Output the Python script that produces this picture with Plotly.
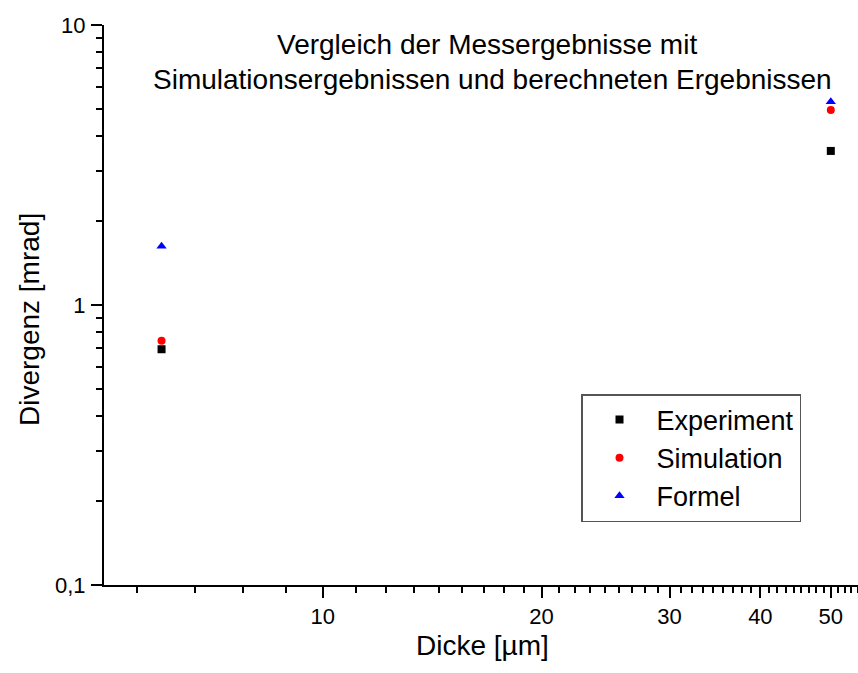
import plotly.graph_objects as go
import math

# ---- data ----
dicke = [6, 50]                 # Dicke [µm]
experiment = [0.695, 3.55]      # Divergenz [mrad]
simulation = [0.745, 4.97]
formel = [1.62, 5.32]

series_names = ["Experiment", "Simulation", "Formel"]

x_tickvals = [10, 20, 30, 40, 50]
x_ticktext = ["10", "20", "30", "40", "50"]
# Origin-style linear minor ticks (8 per major interval of 10)
x_minor = [10 * k + 10 * j / 9 for k in range(0, 6) for j in range(1, 9)]

y_tickvals = [0.1, 1, 10]
y_ticktext = ["0,1", "1", "10"]
y_minor = [m * d for d in (0.1, 1) for m in range(2, 10)]

title_lines = ["Vergleich der Messergebnisse mit",
               "Simulationsergebnissen und berechneten Ergebnissen"]
x_title = "Dicke [µm]"
y_title = "Divergenz [mrad]"

# ---- figure geometry ----
W, H = 858, 673
L, R, T, B = 104, 0, 25, 88
PW, PH = W - L - R, H - T - B


def px_x(px):
    return (px - L) / PW


def px_y(py):
    return (H - B - py) / PH


FONT = "Arial, Liberation Sans, sans-serif"
BIG = 28

fig = go.Figure()
fig.add_trace(go.Scatter(x=dicke, y=experiment, mode="markers", name=series_names[0],
                         marker=dict(symbol="square", size=8, color="black")))
fig.add_trace(go.Scatter(x=dicke, y=simulation, mode="markers", name=series_names[1],
                         marker=dict(symbol="circle", size=8, color="#ff0000")))
fig.add_trace(go.Scatter(x=dicke, y=formel, mode="markers", name=series_names[2],
                         marker=dict(symbol="triangle-up", size=9, color="#0000ff")))

axis_common = dict(showgrid=False, zeroline=False, showline=True, linecolor="black",
                   linewidth=2, ticks="outside", ticklen=11, tickwidth=2,
                   tickcolor="black", tickfont=dict(family=FONT, size=22, color="black"),
                   mirror=False, automargin=False)

fig.update_xaxes(type="log", range=[math.log10(5), math.log10(54.5)],
                 tickmode="array", tickvals=x_tickvals, ticktext=x_ticktext,
                 minor=dict(tickmode="array", tickvals=x_minor, ticks="outside",
                            ticklen=6, tickwidth=2, tickcolor="black", showgrid=False),
                 ticklabelstandoff=0, **axis_common)
fig.update_yaxes(type="log", range=[-1, 1],
                 tickmode="array", tickvals=y_tickvals, ticktext=y_ticktext,
                 minor=dict(tickmode="array", tickvals=y_minor, ticks="outside",
                            ticklen=6, tickwidth=2, tickcolor="black", showgrid=False),
                 ticklabelstandoff=1, **axis_common)

annotations = [
    dict(text=title_lines[0], x=px_x(487), y=px_y(45), xref="paper", yref="paper",
         xanchor="center", yanchor="middle", showarrow=False,
         font=dict(family=FONT, size=BIG, color="black")),
    dict(text=title_lines[1], x=px_x(493), y=px_y(79), xref="paper", yref="paper",
         xanchor="center", yanchor="middle", showarrow=False,
         font=dict(family=FONT, size=BIG, color="black")),
    dict(text=y_title, x=px_x(29), y=px_y(320), xref="paper", yref="paper",
         xanchor="center", yanchor="middle", textangle=-90, showarrow=False,
         font=dict(family=FONT, size=BIG, color="black")),
    dict(text=x_title, x=px_x(482), y=px_y(645), xref="paper", yref="paper",
         xanchor="center", yanchor="middle", showarrow=False,
         font=dict(family=FONT, size=BIG, color="black")),
]

fig.update_layout(
    width=W, height=H,
    margin=dict(l=L, r=R, t=T, b=B, pad=0),
    paper_bgcolor="white", plot_bgcolor="white",
    annotations=annotations,
    showlegend=True,
    legend=dict(x=px_x(581), y=px_y(394), xanchor="left", yanchor="top",
                bgcolor="white", bordercolor="#555555", borderwidth=1.5,
                font=dict(family=FONT, size=27, color="black"),
                itemwidth=64, tracegroupgap=0),
)

fig.write_html("out.html", config={"displayModeBar": False},
               post_script="document.body.style.margin='0';document.body.style.padding='0';")
